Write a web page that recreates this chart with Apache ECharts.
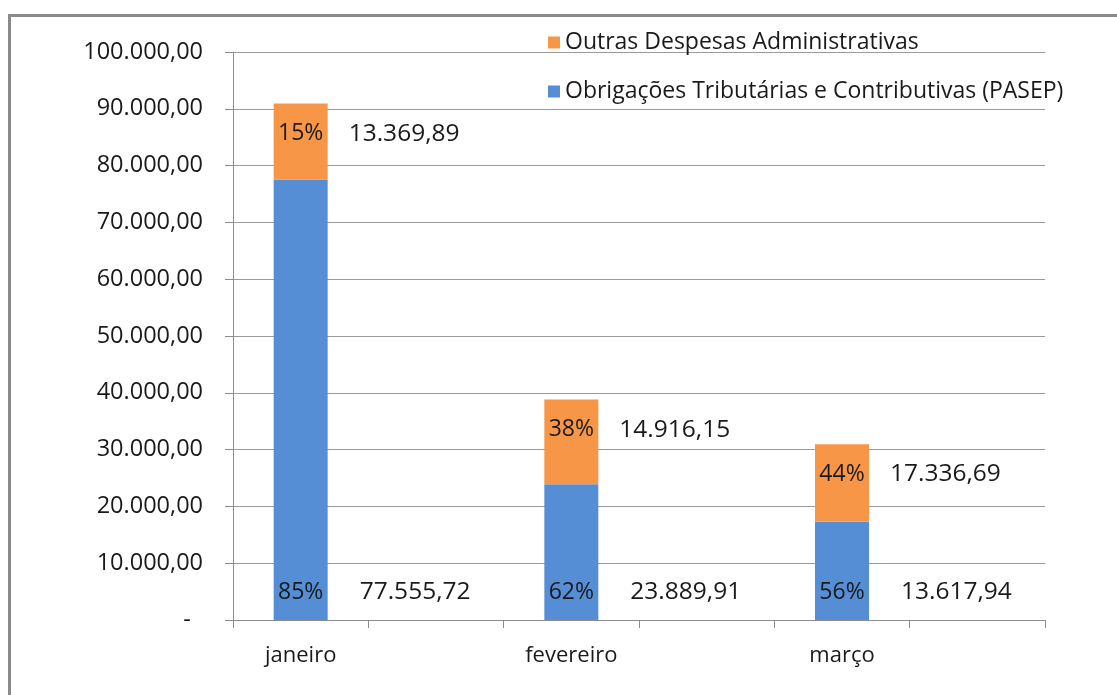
<!DOCTYPE html>
<html>
<head>
<meta charset="utf-8">
<script src="https://cdn.jsdelivr.net/npm/echarts@6/dist/echarts.min.js"></script>
<style>html,body{margin:0;padding:0;background:#fff}#c{width:1117px;height:695px}</style>
</head>
<body>
<div id="c"></div>
<script>
const categories = ['janeiro', 'fevereiro', 'março'];
const seriesNames = ['Obrigações Tributárias e Contributivas (PASEP)', 'Outras Despesas Administrativas'];
const pasepValues = [77555.72, 23889.91, 17336.69];
const outrasValues = [13369.89, 14916.15, 13617.94];
const pasepPercent = ['85%', '62%', '56%'];
const outrasPercent = ['15%', '38%', '44%'];
const pasepValueLabels = ['77.555,72', '23.889,91', '13.617,94'];
const outrasValueLabels = ['13.369,89', '14.916,15', '17.336,69'];
const yTicks = { min: 0, max: 100000, interval: 10000 };

const FONT = 'Open Sans';
const TXT = '#1a1a1a';

// 6 slots: each month followed by an empty slot (as in the original)
const axisCats = [];
const pasepData = [], outrasData = [];
categories.forEach((c, i) => {
  axisCats.push(c, ' ');
  pasepData.push({ value: pasepValues[i], idx: i }, '-');
  outrasData.push({ value: outrasValues[i], idx: i }, '-');
});

function fmt(v) {
  if (v === 0) return '-  ';
  return v.toLocaleString('pt-BR', { minimumFractionDigits: 2, maximumFractionDigits: 2 });
}

const chart = echarts.init(document.getElementById('c'));
chart.setOption({
  backgroundColor: '#fff',
  animation: false,
  textStyle: { fontFamily: FONT },
  graphic: [{
    type: 'rect', left: 7, top: 13, z: 100,
    shape: { width: 1300, height: 900 },
    style: { fill: 'none', stroke: '#8a8a8a', lineWidth: 3 }
  }],
  legend: {
    orient: 'vertical', left: 543, top: 26, itemGap: 26,
    itemWidth: 12, itemHeight: 12, icon: 'rect',
    data: [seriesNames[1], seriesNames[0]],
    textStyle: { fontFamily: FONT, fontSize: 23, color: TXT }
  },
  grid: { left: 233, right: 72, top: 52, bottom: 75, containLabel: false },
  xAxis: {
    type: 'category', data: axisCats, boundaryGap: true,
    axisLine: { lineStyle: { color: '#8c8c8c', width: 1 } },
    axisTick: { show: true, length: 8, interval: 0, lineStyle: { color: '#8c8c8c' } },
    axisLabel: { interval: 0, margin: 25, fontFamily: FONT, fontSize: 22, color: TXT }
  },
  yAxis: {
    type: 'value', min: yTicks.min, max: yTicks.max, interval: yTicks.interval,
    axisLine: { show: true, lineStyle: { color: '#8c8c8c', width: 1 } },
    axisTick: { show: true, length: 8, lineStyle: { color: '#8c8c8c' } },
    splitLine: { lineStyle: { color: '#9a9a9a', width: 1 } },
    axisLabel: { margin: 30, fontFamily: FONT, fontSize: 23.5, color: TXT, formatter: fmt }
  },
  series: [
    {
      name: seriesNames[0], type: 'bar', stack: 'total', barWidth: 54,
      itemStyle: { color: '#558ED5' },
      data: pasepData,
      label: {
        show: true, position: ['0%', '100%'], offset: [0, -28],
        align: 'left', verticalAlign: 'middle',
        formatter: p => '{p|' + pasepPercent[p.data.idx] + '}{v|' + pasepValueLabels[p.data.idx] + '}',
        rich: {
          p: { width: 54, align: 'center', fontFamily: FONT, fontSize: 23, color: TXT },
          v: { padding: [0, 0, 0, 32], fontFamily: FONT, fontSize: 24.5, color: TXT }
        }
      }
    },
    {
      name: seriesNames[1], type: 'bar', stack: 'total', barWidth: 54,
      itemStyle: { color: '#F79646' },
      data: outrasData,
      label: {
        show: true, position: [0, 30],
        align: 'left', verticalAlign: 'middle',
        formatter: p => '{p|' + outrasPercent[p.data.idx] + '}{v|' + outrasValueLabels[p.data.idx] + '}',
        rich: {
          p: { width: 54, align: 'center', fontFamily: FONT, fontSize: 23, color: TXT },
          v: { padding: [0, 0, 0, 21], fontFamily: FONT, fontSize: 24.5, color: TXT }
        }
      }
    }
  ]
});
</script>
</body>
</html>
